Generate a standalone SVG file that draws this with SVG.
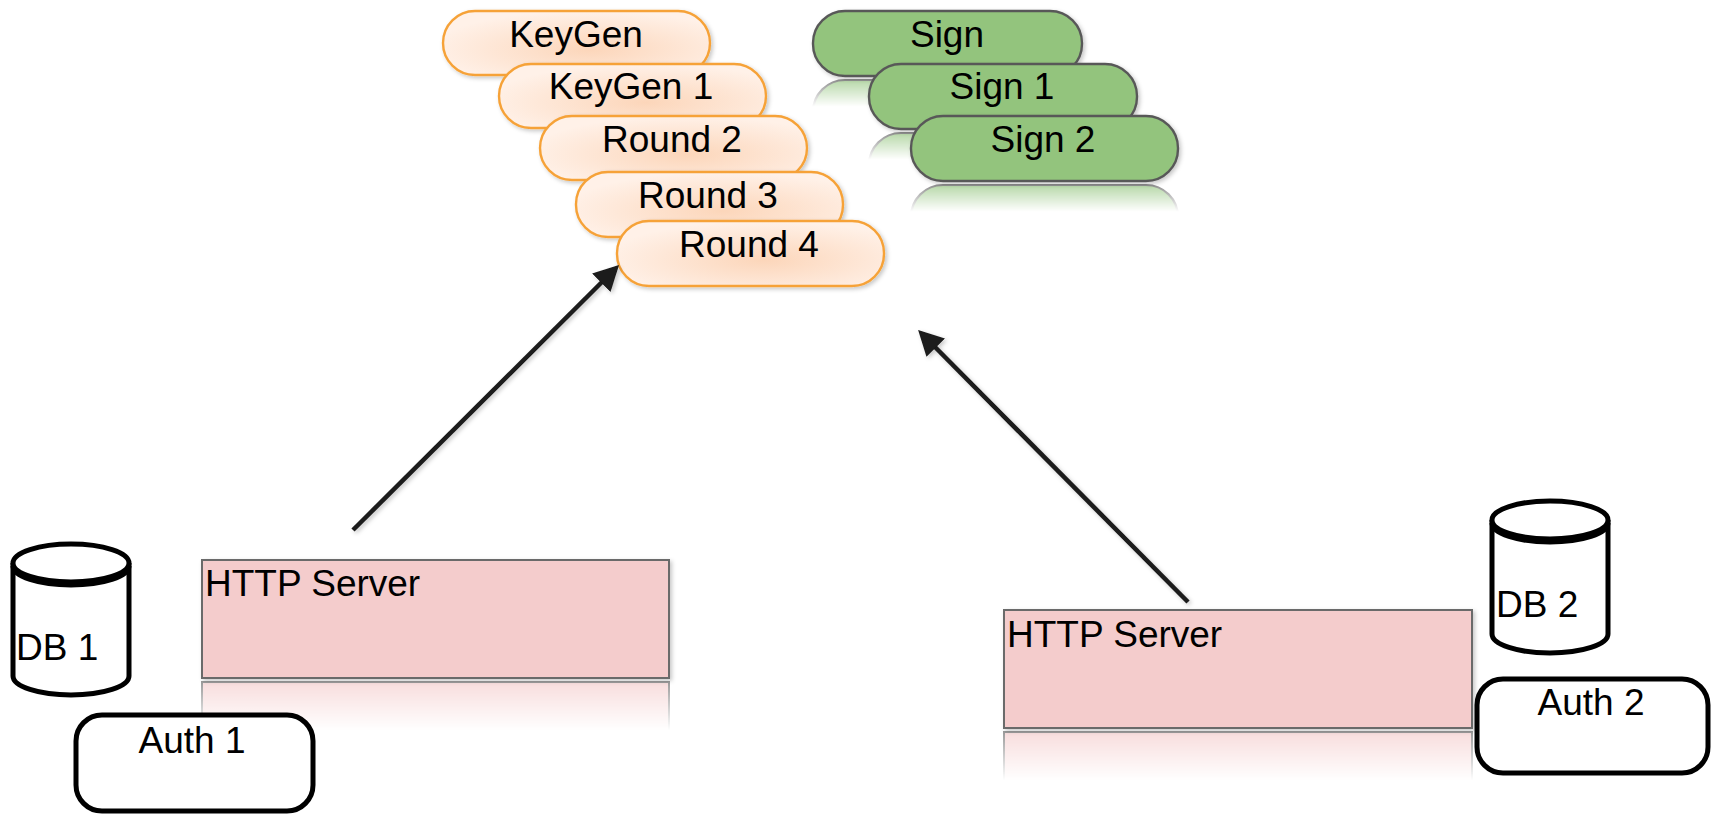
<svg xmlns="http://www.w3.org/2000/svg" width="1712" height="814" viewBox="0 0 1712 814">
  <style>
    text { font-family: "Liberation Sans", Arial, sans-serif; font-size: 37px; fill: #000; }
    .mid { text-anchor: middle; }
    .round { fill: url(#peach); stroke: #f6a238; stroke-width: 2.4; filter: url(#shadow); }
    .sign { fill: #93c47d; stroke: #595959; stroke-width: 2.4; filter: url(#shadow); }
    .sign-ghost { fill: #93c47d; stroke: #595959; stroke-width: 2.2; }
    .server { fill: #f4cccc; stroke: #6b6b6b; stroke-width: 2; filter: url(#shadow); }
    .server-ghost { fill: #f4cccc; stroke: #6b6b6b; stroke-width: 2; }
    .auth { fill: #fff; stroke: #000; stroke-width: 5; }
    .db { fill: #fff; stroke: #000; stroke-width: 5; }
    .db-rim { fill: none; stroke: #000; stroke-width: 5; }
    .link { stroke: #1a1a1a; stroke-width: 4.5; fill: none; marker-end: url(#head); filter: url(#shadow); }
  </style>
  <defs>
    <radialGradient id="peach" cx="0.55" cy="0.6" r="0.6">
      <stop offset="0" stop-color="#fcd6ba"/>
      <stop offset="1" stop-color="#fff1e8"/>
    </radialGradient>
    <linearGradient id="fade" x1="0" y1="0" x2="0" y2="1">
      <stop offset="0" stop-color="#fff" stop-opacity="0.75"/>
      <stop offset="0.42" stop-color="#fff" stop-opacity="0"/>
    </linearGradient>
    <mask id="reflect" maskContentUnits="objectBoundingBox">
      <rect x="-0.05" y="-0.05" width="1.1" height="1.1" fill="url(#fade)"/>
    </mask>
    <filter id="shadow" x="-10%" y="-10%" width="130%" height="140%">
      <feDropShadow dx="2" dy="2" stdDeviation="2" flood-color="#000" flood-opacity="0.22"/>
    </filter>
    <marker id="head" viewBox="0 0 25 26" refX="1" refY="13" markerWidth="25" markerHeight="26" markerUnits="userSpaceOnUse" orient="auto">
      <path d="M0,0 L25,13 L0,26 z" fill="#1a1a1a"/>
    </marker>
  </defs>

  <!-- key generation rounds -->
  <g id="keygen">
    <rect class="round" x="443" y="11" width="267" height="64" rx="32"/>
    <text class="mid" x="576" y="47">KeyGen</text>
  </g>
  <g id="keygen-1">
    <rect class="round" x="499" y="64" width="267" height="64" rx="32"/>
    <text class="mid" x="631" y="99">KeyGen 1</text>
  </g>
  <g id="round-2">
    <rect class="round" x="540" y="116" width="267" height="64" rx="32"/>
    <text class="mid" x="672" y="152">Round 2</text>
  </g>
  <g id="round-3">
    <rect class="round" x="576" y="172" width="267" height="65" rx="32"/>
    <text class="mid" x="708" y="208">Round 3</text>
  </g>
  <g id="round-4">
    <rect class="round" x="617" y="221" width="267" height="65" rx="32"/>
    <text class="mid" x="749" y="257">Round 4</text>
  </g>

  <!-- signing rounds, each with a faded mirror below -->
  <g id="sign">
    <rect class="sign-ghost" x="813" y="80" width="269" height="65" rx="32" mask="url(#reflect)"/>
    <rect class="sign" x="813" y="11" width="269" height="65" rx="32"/>
    <text class="mid" x="947" y="47">Sign</text>
  </g>
  <g id="sign-1">
    <rect class="sign-ghost" x="869" y="133" width="268" height="65" rx="32" mask="url(#reflect)"/>
    <rect class="sign" x="869" y="64" width="268" height="65" rx="32"/>
    <text class="mid" x="1002" y="99">Sign 1</text>
  </g>
  <g id="sign-2">
    <rect class="sign-ghost" x="911" y="185" width="267" height="65" rx="32" mask="url(#reflect)"/>
    <rect class="sign" x="911" y="116" width="267" height="65" rx="32"/>
    <text class="mid" x="1043" y="152">Sign 2</text>
  </g>

  <!-- party 1 -->
  <g id="server-1">
    <rect class="server-ghost" x="202" y="682" width="467" height="118" mask="url(#reflect)"/>
    <rect class="server" x="202" y="560" width="467" height="118"/>
    <text x="205" y="596">HTTP Server</text>
  </g>
  <g id="db-1">
    <path class="db" d="M13,563 L13,676 A58,19 0 0 0 129,676 L129,563"/>
    <ellipse class="db" cx="71" cy="563" rx="58" ry="19"/>
    <path class="db-rim" d="M13,566 A58,19 0 0 0 129,566"/>
    <text x="16" y="660">DB 1</text>
  </g>
  <g id="auth-1">
    <rect class="auth" x="76" y="715" width="237" height="96" rx="26"/>
    <text class="mid" x="192" y="753">Auth 1</text>
  </g>

  <!-- party 2 -->
  <g id="server-2">
    <rect class="server-ghost" x="1004" y="732" width="468" height="118" mask="url(#reflect)"/>
    <rect class="server" x="1004" y="610" width="468" height="118"/>
    <text x="1007" y="647">HTTP Server</text>
  </g>
  <g id="db-2">
    <path class="db" d="M1492,520 L1492,634 A58,19 0 0 0 1608,634 L1608,520"/>
    <ellipse class="db" cx="1550" cy="520" rx="58" ry="19"/>
    <path class="db-rim" d="M1492,523 A58,19 0 0 0 1608,523"/>
    <text x="1496" y="617">DB 2</text>
  </g>
  <g id="auth-2">
    <rect class="auth" x="1477" y="679" width="231" height="94" rx="26"/>
    <text class="mid" x="1591" y="715">Auth 2</text>
  </g>

  <!-- connectors -->
  <g id="connectors">
    <line class="link" x1="353" y1="530" x2="602" y2="282"/>
    <line class="link" x1="1188" y1="602" x2="935" y2="347"/>
  </g>
</svg>
